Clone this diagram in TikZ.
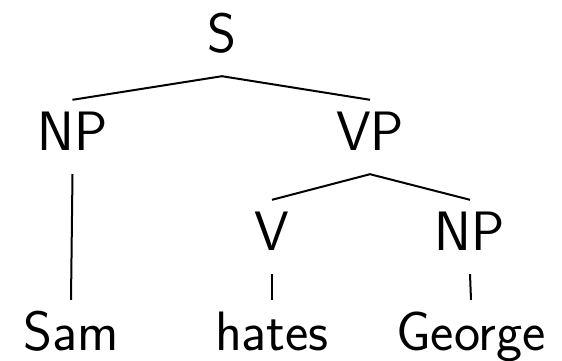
\documentclass[tikz,border=0pt]{standalone}
\usepackage{tikz}
\tikzstyle{cat}=[font=\fontsize{55.5}{60}\selectfont\sffamily, anchor=base, inner xsep=0pt, inner ysep=0pt, text height=50pt, text depth=24pt]
\tikzstyle{branch}=[line width=2pt]

\begin{document}
\begin{tikzpicture}[x=1pt, y=1pt]
\useasboundingbox (0,0) rectangle (562,360);

% Top level
\node[cat] (s) at (222,308) {S};

% Phrases
\node[cat] (np) at (72.5,210) {NP};
\node[cat] (vp) at (370,210) {VP};
\node[cat] (v) at (272,110) {V};
\node[cat] (obj) at (470,110) {NP};

% Words
\node[cat] (sam) at (71,10) {Sam};
\node[cat] (hates) at (272,10) {hates};
\node[cat] (george) at (471,10) {George};

\draw[branch] (np.north) -- (s.south) -- (vp.north);
\draw[branch] (v.north) -- (vp.south) -- (obj.north);
\draw[branch] (np.south) -- (sam.north);
\draw[branch] (v.south) -- (hates.north);
\draw[branch] (obj.south) -- (george.north);

\end{tikzpicture}
\end{document}
